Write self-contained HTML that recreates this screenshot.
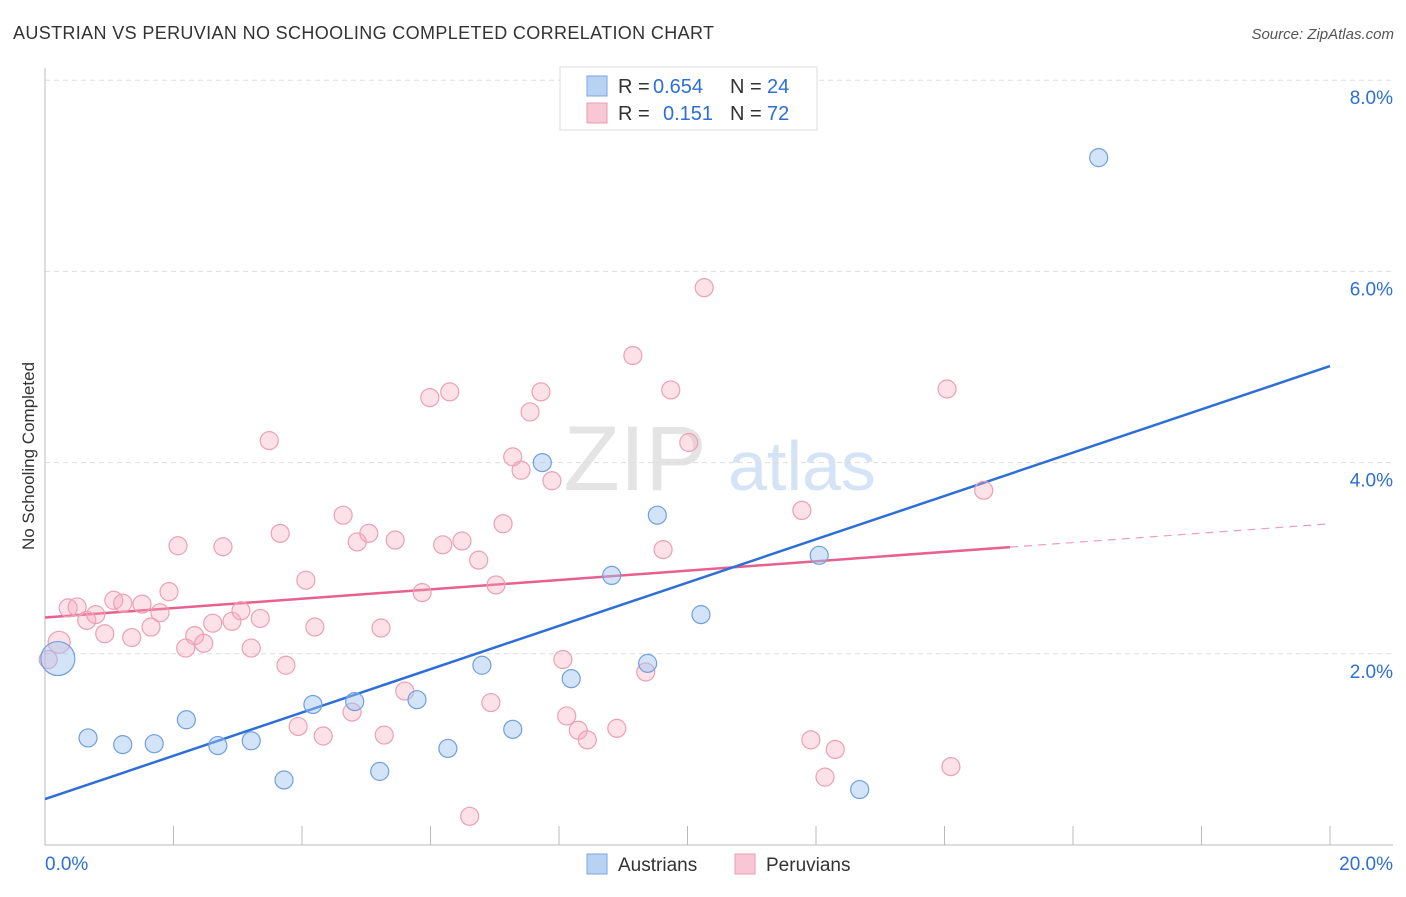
<!DOCTYPE html>
<html><head><meta charset="utf-8"><style>
body{margin:0;background:#fff;font-family:"Liberation Sans",sans-serif;}
svg text{font-family:"Liberation Sans",sans-serif;}
</style></head><body>
<svg id="chart" width="1406" height="892" viewBox="0 0 1406 892">
<text x="13" y="39" font-size="18" fill="#333" textLength="701">AUSTRIAN VS PERUVIAN NO SCHOOLING COMPLETED CORRELATION CHART</text>
<text x="1394" y="39" font-size="15" fill="#555" font-style="italic" text-anchor="end">Source: ZipAtlas.com</text>
<text x="34" y="456" font-size="17" fill="#333" transform="rotate(-90 34 456)" text-anchor="middle">No Schooling Completed</text>
<g><text x="635" y="490" font-size="92" fill="#e4e4e4" font-family="Liberation Serif" text-anchor="middle">ZIP</text><text x="802" y="490" font-size="70" fill="#d4e3f5" text-anchor="middle">atlas</text></g>
<g id="grid"></g><g id="axes"></g><g id="trends"></g><g id="points"></g>
<g>
<rect x="560" y="67" width="257" height="63" fill="#fff" stroke="#ddd"/>
<rect x="587" y="76" width="20" height="20" fill="#b8d2f4" stroke="#7aa6e0"/>
<rect x="587" y="103" width="20" height="20" fill="#f8c6d4" stroke="#eb9ab1"/>
<g font-size="20">
<text x="618" y="93" fill="#333">R =</text><text x="653" y="93" fill="#2d6fd6">0.654</text>
<text x="730" y="93" fill="#333">N =</text><text x="767" y="93" fill="#2d6fd6">24</text></g>
<g font-size="20">
<text x="618" y="120" fill="#333">R =</text><text x="663" y="120" fill="#2d6fd6">0.151</text>
<text x="730" y="120" fill="#333">N =</text><text x="767" y="120" fill="#2d6fd6">72</text></g>
</g>
<g>
<rect x="587" y="854" width="20" height="20" fill="#b8d2f4" stroke="#7aa6e0"/>
<text x="618" y="871" font-size="19" fill="#333">Austrians</text>
<rect x="735" y="854" width="20" height="20" fill="#f8c6d4" stroke="#eb9ab1"/>
<text x="766" y="871" font-size="19" fill="#333">Peruvians</text>
</g>
</svg>
<script>
const yTicks=[2,4,6,8];
const yTickLabels=["2.0%","4.0%","6.0%","8.0%"];
const xTickLabels=["0.0%","20.0%"];
const austX=[0.20,0.67,1.21,1.70,2.20,2.69,3.21,3.72,4.17,4.82,5.21,5.79,6.27,6.80,7.28,7.74,8.19,8.82,9.38,9.53,10.21,12.05,12.68,16.40];
const austY=[1.95,1.12,1.05,1.06,1.31,1.04,1.09,0.68,1.47,1.50,0.77,1.52,1.01,1.88,1.21,4.00,1.74,2.82,1.90,3.45,2.41,3.03,0.58,7.19];
const austR=[17,9,9,9,9,9,9,9,9,9,9,9,9,9,9,9,9,9,9,9,9,9,9,9];
const peruX=[0.05,0.22,0.36,0.50,0.65,0.79,0.93,1.07,1.21,1.35,1.51,1.65,1.79,1.93,2.07,2.19,2.33,2.47,2.61,2.77,2.91,3.05,3.21,3.35,3.49,3.66,3.75,3.94,4.06,4.20,4.33,4.64,4.78,4.86,5.04,5.23,5.28,5.45,5.60,5.87,5.99,6.19,6.30,6.49,6.61,6.75,6.94,7.02,7.13,7.28,7.41,7.55,7.72,7.89,8.06,8.12,8.30,8.44,8.90,9.15,9.35,9.62,9.74,10.02,10.26,11.78,11.92,12.14,12.30,14.04,14.10,14.61];
const peruY=[1.94,2.12,2.48,2.49,2.35,2.41,2.21,2.56,2.53,2.17,2.52,2.28,2.43,2.65,3.13,2.06,2.19,2.11,2.32,3.12,2.34,2.45,2.06,2.37,4.23,3.26,1.88,1.24,2.77,2.28,1.14,3.45,1.39,3.17,3.26,2.27,1.15,3.19,1.61,2.64,4.68,3.14,4.74,3.18,0.30,2.98,1.49,2.72,3.36,4.06,3.92,4.53,4.74,3.81,1.94,1.35,1.20,1.10,1.22,5.12,1.81,3.09,4.76,4.21,5.83,3.50,1.10,0.71,1.00,4.77,0.82,3.71];
const austTrend=[0.48,5.01];
const peruTrend=[2.38,3.36];
const peruSolidEnd=15.02;

const NS="http://www.w3.org/2000/svg";
const X=v=>45+v/20*1285;
const Y=v=>845-v*95.6;
function el(tag,attrs,parent){const e=document.createElementNS(NS,tag);for(const k in attrs)e.setAttribute(k,attrs[k]);parent.appendChild(e);return e;}
const grid=document.getElementById('grid'),axes=document.getElementById('axes'),trends=document.getElementById('trends'),pts=document.getElementById('points');
yTicks.forEach((t,i)=>{
  const l=el('line',{x1:45,x2:1393,y1:Y(t),y2:Y(t),stroke:'#ddd','stroke-dasharray':'5,4'},grid);
  
  
  const tx=el('text',{x:1393,y:Y(t)+24,'font-size':19,fill:'#2d6fd6','text-anchor':'end'},axes);
  tx.textContent=yTickLabels[i];
  
  
});
const ax=el('line',{x1:45,x2:1393,y1:845,y2:845,stroke:'#bbb'},axes);


const ay=el('line',{x1:45,x2:45,y1:68,y2:845,stroke:'#bbb'},axes);


for(let i=1;i<=10;i++){
  const t=el('line',{x1:X(i*2),x2:X(i*2),y1:826,y2:845,stroke:'#bbb'},axes);
  
  
}
const xl0=el('text',{x:45,y:870,'font-size':19,fill:'#2d6fd6'},axes);xl0.textContent=xTickLabels[0];


const xl1=el('text',{x:1393,y:870,'font-size':19,fill:'#2d6fd6','text-anchor':'end'},axes);xl1.textContent=xTickLabels[1];



peruX.forEach((x,i)=>{
  const c=el('circle',{cx:X(x),cy:Y(peruY[i]),r:(i==1?11:9),fill:'rgba(245,170,192,0.35)',stroke:'#eba0b6','stroke-width':1.2},pts);
  
  
});
austX.forEach((x,i)=>{
  const c=el('circle',{cx:X(x),cy:Y(austY[i]),r:austR[i],fill:'rgba(160,195,240,0.45)',stroke:'#6f9fe0','stroke-width':1.2},pts);
  
  
});
const py=x=>peruTrend[0]+(peruTrend[1]-peruTrend[0])*x/20;
const p1=el('line',{x1:X(0),y1:Y(py(0)),x2:X(peruSolidEnd),y2:Y(py(peruSolidEnd)),stroke:'#e8608c','stroke-width':2.5},trends);


const p2=el('line',{x1:X(peruSolidEnd),y1:Y(py(peruSolidEnd)),x2:X(20),y2:Y(py(20)),stroke:'#eba0b6','stroke-width':1.2,'stroke-dasharray':'8,6'},trends);


const a1=el('line',{x1:X(0),y1:Y(austTrend[0]),x2:X(20),y2:Y(austTrend[1]),stroke:'#2d6fd6','stroke-width':2.5},trends);


</script>
</body></html>
